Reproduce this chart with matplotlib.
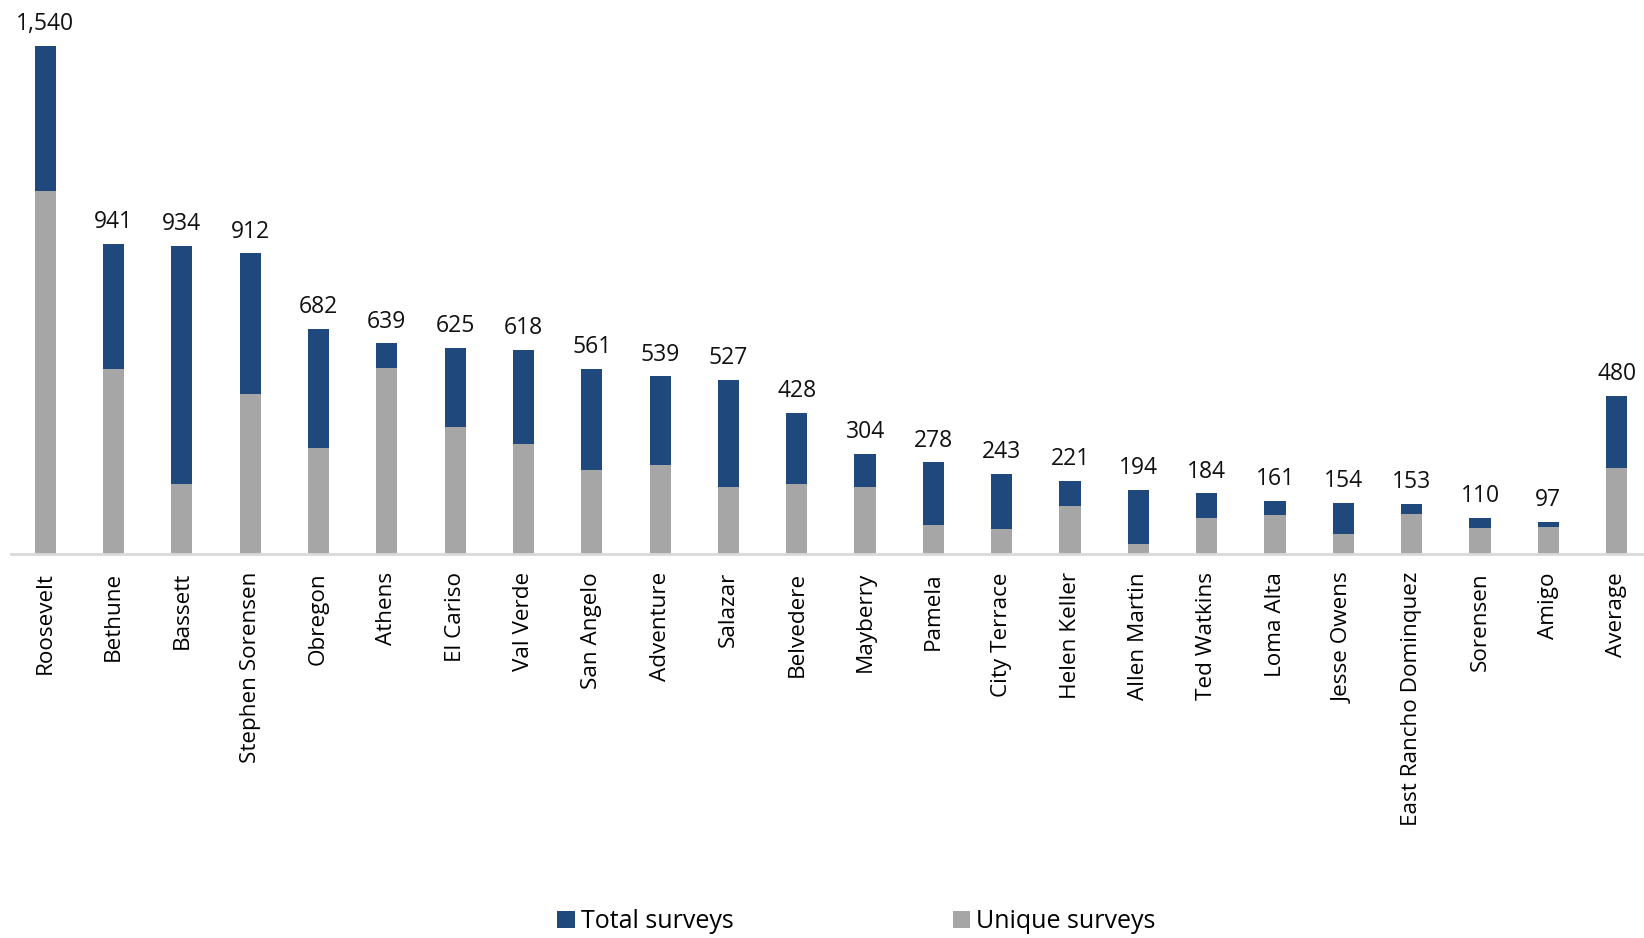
import matplotlib.pyplot as plt
import numpy as np

plt.rcParams['font.family'] = ['Open Sans', 'DejaVu Sans']

sites = ["Roosevelt", "Bethune", "Bassett", "Stephen Sorensen", "Obregon", "Athens",
         "El Cariso", "Val Verde", "San Angelo", "Adventure", "Salazar", "Belvedere",
         "Mayberry", "Pamela", "City Terrace", "Helen Keller", "Allen Martin",
         "Ted Watkins", "Loma Alta", "Jesse Owens", "East Rancho Dominquez",
         "Sorensen", "Amigo", "Average"]
total = [1540, 941, 934, 912, 682, 639, 625, 618, 561, 539, 527, 428,
         304, 278, 243, 221, 194, 184, 161, 154, 153, 110, 97, 480]
unique = [1102, 561, 212, 484, 320, 564, 385, 334, 254, 270, 203, 213,
          204, 87, 76, 145, 30, 110, 117, 62, 120, 80, 83, 260]

blue = "#1f497d"
grey = "#a6a6a6"

fig = plt.figure(figsize=(16.44, 9.38), dpi=100)
ax = fig.add_axes([0.0067, 0.4094, 0.9933, 0.5906])

x = np.arange(len(sites))
w = 0.31
ax.bar(x, total, width=w, color=blue, label="Total surveys", zorder=2)
ax.bar(x, unique, width=w, color=grey, label="Unique surveys", zorder=3)

for xi, v in zip(x, total):
    ax.annotate(f"{v:,}", (xi, v), xytext=(0, 7), textcoords="offset points",
                ha="center", va="bottom", fontsize=16.5, color="#111111")

ax.set_xlim(-0.5, 23.4)
ax.set_ylim(0, 1680)
ax.set_xticks(x)
ax.set_xticklabels(sites, rotation=90, fontsize=16.2, va="top")
ax.tick_params(axis="x", length=0, pad=13)
ax.set_yticks([])
for s in ["top", "right", "left"]:
    ax.spines[s].set_visible(False)
ax.spines["bottom"].set_color("#d9d9d9")
ax.spines["bottom"].set_linewidth(2)
ax.spines["bottom"].set_zorder(4)

fig.legend(loc="lower center", bbox_to_anchor=(0.521, -0.02), ncol=2, frameon=False,
           fontsize=18, columnspacing=8.75, handlelength=0.7, handleheight=0.7,
           handletextpad=0.25)

fig.savefig("out.png", dpi=100)
